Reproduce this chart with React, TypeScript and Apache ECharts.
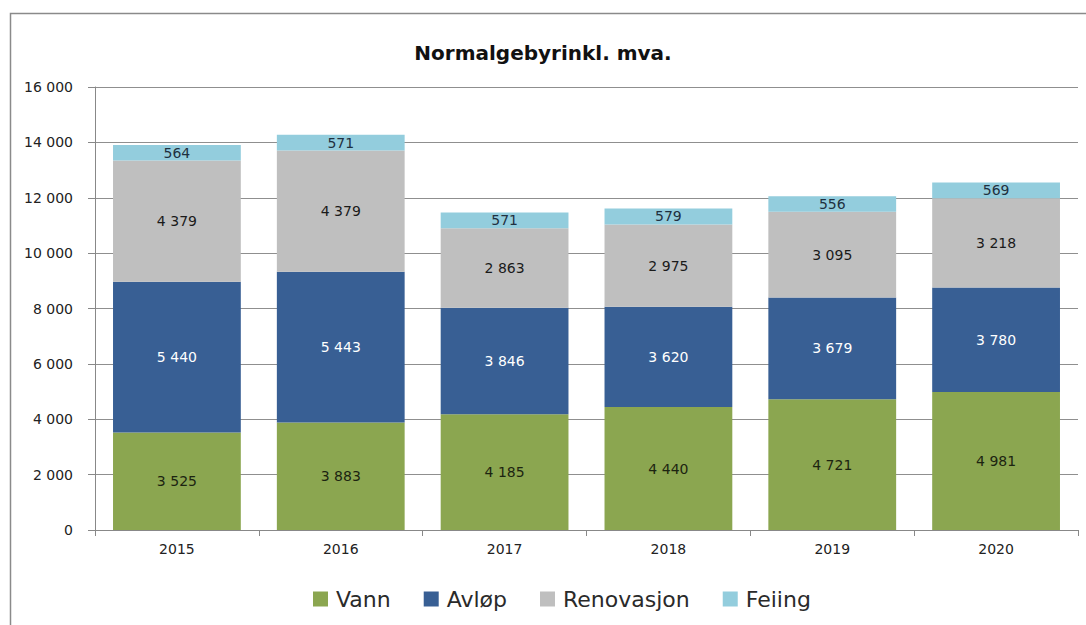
import React, { useEffect, useRef } from "react";
import * as echarts from "echarts";

const years = ["2015", "2016", "2017", "2018", "2019", "2020"];
const vann = [3525, 3883, 4185, 4440, 4721, 4981];
const avlop = [5440, 5443, 3846, 3620, 3679, 3780];
const renovasjon = [4379, 4379, 2863, 2975, 3095, 3218];
const feiing = [564, 571, 571, 579, 556, 569];

const FONT = "'DejaVu Sans', sans-serif";

const fmt = (v: number) => {
  const s = String(Math.round(v));
  return s.replace(/\B(?=(\d{3})+(?!\d))/g, " ");
};

export default function App() {
  const ref = useRef<HTMLDivElement>(null);
  useEffect(() => {
    document.body.style.margin = "0";
    const chart = echarts.init(ref.current!, null, { renderer: "svg" });
    const mk = (name: string, data: number[], color: string, labelColor: string) => ({
      name,
      type: "bar",
      stack: "total",
      data,
      barCategoryGap: "22%",
      itemStyle: { color },
      label: {
        show: true,
        position: "inside",
        color: labelColor,
        fontFamily: FONT,
        fontSize: 14,
        formatter: (p: any) => fmt(p.value),
      },
    });
    chart.setOption({
      animation: false,
      backgroundColor: "#ffffff",
      title: {
        text: "Normalgebyrinkl. mva.",
        left: "center",
        top: 38,
        textStyle: { fontFamily: FONT, fontSize: 20, fontWeight: "bold", color: "#111" },
      },
      graphic: [
        {
          type: "rect",
          shape: { x: 10.5, y: 13.5, width: 1100, height: 700 },
          style: { fill: "none", stroke: "#8a8a8a", lineWidth: 1.5 },
          silent: true,
        },
      ],
      legend: {
        bottom: 10,
        left: 308,
        itemWidth: 15,
        itemHeight: 15,
        itemGap: 33,
        icon: "rect",
        textStyle: { fontFamily: FONT, fontSize: 22, color: "#2a2a2a", padding: [0, 0, 0, 3] },
        data: ["Vann", "Avløp", "Renovasjon", "Feiing"],
      },
      grid: { left: 95, right: 8, top: 87, bottom: 95 },
      xAxis: {
        type: "category",
        data: years,
        axisLine: { lineStyle: { color: "#888", width: 1 } },
        axisTick: { show: true, alignWithLabel: false, length: 6, lineStyle: { color: "#888" } },
        axisLabel: { fontFamily: FONT, fontSize: 14, color: "#222", margin: 12 },
      },
      yAxis: {
        type: "value",
        min: 0,
        max: 16000,
        interval: 2000,
        axisLine: { show: true, lineStyle: { color: "#888", width: 1 } },
        axisTick: { show: true, length: 7, lineStyle: { color: "#888" } },
        splitLine: { lineStyle: { color: "#8f8f8f", width: 1 } },
        axisLabel: {
          fontFamily: FONT,
          fontSize: 14,
          color: "#222",
          margin: 22,
          formatter: (v: number) => fmt(v),
        },
      },
      series: [
        mk("Vann", vann, "#8ba650", "#1c2410"),
        mk("Avløp", avlop, "#385f94", "#ffffff"),
        mk("Renovasjon", renovasjon, "#bfbfbf", "#1a1a1a"),
        mk("Feiing", feiing, "#93cddd", "#1f3040"),
      ],
    });
    return () => chart.dispose();
  }, []);
  return <div ref={ref} style={{ width: 1086, height: 625 }} />;
}
